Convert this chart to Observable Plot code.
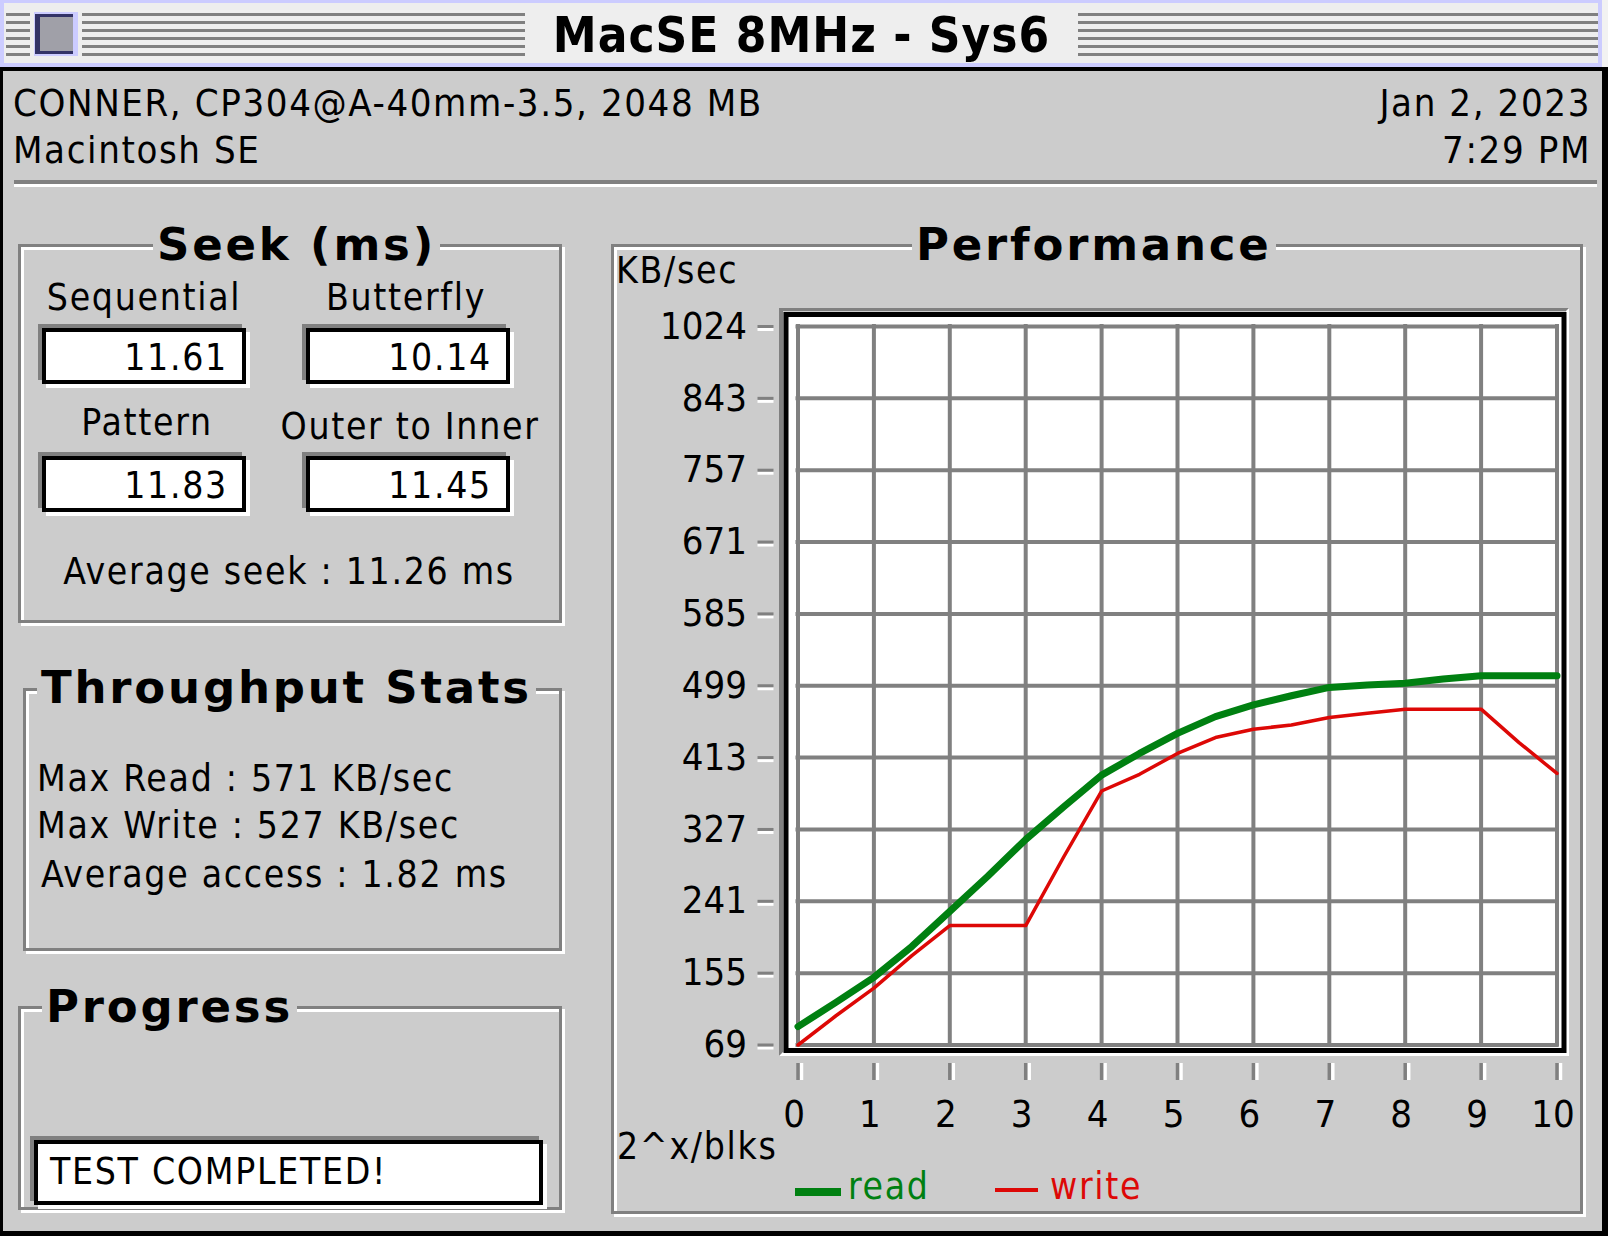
<!DOCTYPE html>
<html>
<head>
<meta charset="utf-8">
<script src="https://cdn.jsdelivr.net/npm/d3@7"></script>
<script src="https://cdn.jsdelivr.net/npm/@observablehq/plot@0.6"></script>
<style>
  body { margin: 0; width: 1608px; height: 1236px; background: #000; overflow: hidden; position: relative; }
  .abs { position: absolute; }
  .t { position: absolute; font-family: "DejaVu Sans Condensed", "DejaVu Sans", sans-serif; font-size: 37px; line-height: 1; white-space: nowrap; color: #000; letter-spacing: 1.7px; }
  .c { text-align: center; width: 600px; }
  .h { position: absolute; font-family: "DejaVu Sans", sans-serif; font-weight: bold; font-size: 45px; line-height: 1; letter-spacing: 2.8px; background: #ccc; padding: 0 4px; white-space: nowrap; }
  .group { position: absolute; box-sizing: border-box; border: 3px solid #808080; box-shadow: 3px 3px 0 0 #fff, inset 3px 3px 0 0 #fff; }
  .field { position: absolute; box-sizing: border-box; border: 4px solid #000; background: #fff; box-shadow: -4px -4px 0 0 #808080, 4px 4px 0 0 #fff;
           font-family: "DejaVu Sans Condensed", "DejaVu Sans", sans-serif; font-size: 37px; line-height: 1; letter-spacing: 1.7px; text-align: right; padding-right: 14px; padding-top: 7px; }
  .stripes { position: absolute; top: 13px; height: 43px; background: repeating-linear-gradient(#808080 0 3px, transparent 3px 8px); }
</style>
</head>
<body>
<!-- title bar -->
<div class="abs" style="left:0;top:0;width:1602px;height:67px;background:#ccccff;"></div>
<div class="abs" style="left:4px;top:3px;width:1594px;height:60px;background:#eeeeee;"></div>
<div class="abs" style="left:1602px;top:0;width:6px;height:67px;background:#f2f2f2;"></div>
<div class="stripes" style="left:6px;width:24px;"></div>
<div class="stripes" style="left:82px;width:443px;"></div>
<div class="stripes" style="left:1078px;width:520px;"></div>
<div class="abs" style="left:34px;top:12px;width:44px;height:44px;background:#ccccff;"></div>
<div class="abs" style="left:35px;top:14px;width:38px;height:40px;box-sizing:border-box;border-left:5px solid #333366;border-top:3px solid #333366;border-bottom:3px solid #333366;background:#a0a0a8;"></div>
<div class="abs" style="left:525px;top:11px;width:553px;text-align:center;font-family:'DejaVu Sans Condensed','DejaVu Sans',sans-serif;font-weight:bold;font-size:49px;line-height:1;letter-spacing:1px;">MacSE 8MHz - Sys6</div>

<!-- window body -->
<div class="abs" style="left:3px;top:71px;width:1599px;height:1160px;background:#cccccc;"></div>

<div class="t" style="left:13px;top:84px;font-size:38px;letter-spacing:1.6px;">CONNER, CP304@A-40mm-3.5, 2048 MB</div>
<div class="t" style="left:13px;top:131px;font-size:38px;letter-spacing:1.6px;">Macintosh SE</div>
<div class="t" style="right:17px;top:84px;font-size:38px;letter-spacing:1.6px;">Jan 2, 2023</div>
<div class="t" style="right:17px;top:131px;font-size:38px;letter-spacing:1.6px;">7:29 PM</div>
<div class="abs" style="left:14px;top:180px;width:1583px;height:4px;background:#808080;"></div>
<div class="abs" style="left:14px;top:184px;width:1583px;height:3px;background:#fff;"></div>

<!-- Seek group -->
<div class="group" style="left:18px;top:244px;width:544px;height:379px;"></div>
<div class="h" style="left:153px;top:222px;">Seek (ms)</div>
<div class="t c" style="left:-156px;top:279px;">Sequential</div>
<div class="t c" style="left:106px;top:279px;">Butterfly</div>
<div class="field" style="left:42px;top:328px;width:204px;height:56px;">11.61</div>
<div class="field" style="left:306px;top:328px;width:204px;height:56px;">10.14</div>
<div class="t c" style="left:-153px;top:404px;">Pattern</div>
<div class="t c" style="left:110px;top:408px;">Outer to Inner</div>
<div class="field" style="left:42px;top:456px;width:204px;height:56px;">11.83</div>
<div class="field" style="left:306px;top:456px;width:204px;height:56px;">11.45</div>
<div class="t c" style="left:-11px;top:553px;">Average seek : 11.26 ms</div>

<!-- Throughput group -->
<div class="group" style="left:23px;top:688px;width:539px;height:263px;"></div>
<div class="h" style="left:37px;top:665px;">Throughput Stats</div>
<div class="t" style="left:37px;top:760px;">Max Read : 571 KB/sec</div>
<div class="t" style="left:37px;top:807px;">Max Write : 527 KB/sec</div>
<div class="t" style="left:41px;top:856px;">Average access : 1.82 ms</div>

<!-- Progress group -->
<div class="group" style="left:18px;top:1006px;width:544px;height:204px;"></div>
<div class="h" style="left:42px;top:984px;">Progress</div>
<div class="field" style="left:34px;top:1140px;width:509px;height:65px;text-align:left;padding-left:12px;padding-top:9px;">TEST COMPLETED!</div>

<!-- Performance group -->
<div class="group" style="left:611px;top:244px;width:972px;height:970px;"></div>
<div class="h" style="left:912px;top:222px;">Performance</div>
<div class="t" style="left:616px;top:252px;">KB/sec</div>
<div class="abs" style="left:779px;top:308px;width:790px;height:748px;box-sizing:border-box;border-style:solid;border-width:3px 3px 4px 4px;border-color:#808080 #fff #fff #808080;"></div>
<div id="chart" class="abs" style="left:600px;top:290px;"></div>
<div class="t" style="left:617px;top:1128px;">2^x/blks</div>
<div class="abs" style="left:795px;top:1188px;width:46px;height:8px;background:#008011;"></div>
<div class="t" style="left:848px;top:1168px;color:#008011;">read</div>
<div class="abs" style="left:995px;top:1188px;width:43px;height:4px;background:#dd0806;"></div>
<div class="t" style="left:1050px;top:1168px;color:#dd0806;">write</div>

<script>
// read / write throughput vs transfer size (2^x blocks)
let blockExp = [0, 0.5, 1, 1.5, 2, 2.5, 3, 3.5, 4, 4.5, 5, 5.5, 6, 6.5, 7, 7.5, 8, 8.5, 9, 9.5, 10];
let readKBs = [91, 120, 150, 187, 229, 271, 315, 354, 392, 418, 442, 462, 476, 487, 497, 500, 502, 507, 511, 511, 511];
let writeKBs = [69, 104, 137, 176, 212, 212, 212, 294, 373, 393, 418, 437, 447, 452, 461, 466, 471, 471, 471, 431, 394];

// y grid steps of 86 KB/s; the program prints 1024 on the top line
let yTicks = [69, 155, 241, 327, 413, 499, 585, 671, 757, 843, 929];
let yTickLabels = ["69", "155", "241", "327", "413", "499", "585", "671", "757", "843", "1024"];
let xTicks = [0, 1, 2, 3, 4, 5, 6, 7, 8, 9, 10];

let rows = blockExp.map((x, i) => ({x: x, read: readKBs[i], write: writeKBs[i]}));

let wChart = 980;
let hChart = 850;
let gridGray = "#808080";

let chart = Plot.plot({
  width: wChart,
  height: hChart,
  marginLeft: 185.5,
  marginRight: 16.5,
  marginTop: 24,
  marginBottom: 90,
  x: { domain: [0, 10], range: [197.5, 956.5] },
  y: { domain: [69, 929], range: [754.5, 36] },
  style: {
    fontFamily: '"DejaVu Sans Condensed", "DejaVu Sans", sans-serif',
    fontSize: "38px",
    color: "black",
    background: "transparent",
    overflow: "visible"
  },
  marks: [
    Plot.frame({ fill: "white", stroke: "black", strokeWidth: 5 }),
    Plot.ruleX(xTicks, { x: d => d, y1: yTicks[0], y2: yTicks[yTicks.length - 1], stroke: gridGray, strokeWidth: 4, strokeLinecap: "square" }),
    Plot.ruleY(yTicks, { y: d => d, x1: xTicks[0], x2: xTicks[xTicks.length - 1], stroke: gridGray, strokeWidth: 4, strokeLinecap: "square" }),
    Plot.line(rows, { x: "x", y: "read", stroke: "#008011", strokeWidth: 7 }),
    Plot.line(rows, { x: "x", y: "write", stroke: "#dd0806", strokeWidth: 3.5 }),
    // y ticks: grey mark with white highlight under it
    Plot.axisY(yTicks, { anchor: "left", tickSize: 16, dx: -12, dy: 3, stroke: "white", strokeWidth: 3, fill: "none", label: null }),
    Plot.axisY(yTicks, { anchor: "left", tickSize: 16, dx: -12, stroke: gridGray, strokeWidth: 3, fill: "none", label: null }),
    Plot.axisY(yTicks, { anchor: "left", tickSize: 16, tickPadding: 11, dx: -12, stroke: "none", fill: "black", fontSize: 38, label: null,
      tickFormat: (d, i) => yTickLabels[i] }),
    // x ticks
    Plot.axisX(xTicks, { anchor: "bottom", tickSize: 17, dy: 13, dx: 3.5, stroke: "white", strokeWidth: 3.5, fill: "none", label: null }),
    Plot.axisX(xTicks, { anchor: "bottom", tickSize: 17, dy: 13, stroke: gridGray, strokeWidth: 3.5, fill: "none", label: null }),
    Plot.axisX(xTicks, { anchor: "bottom", tickSize: 17, tickPadding: 20, dy: 13, dx: -4, stroke: "none", fill: "black", fontSize: 38, label: null })
  ]
});

d3.select("#chart").append(() => chart);
</script>
</body>
</html>
